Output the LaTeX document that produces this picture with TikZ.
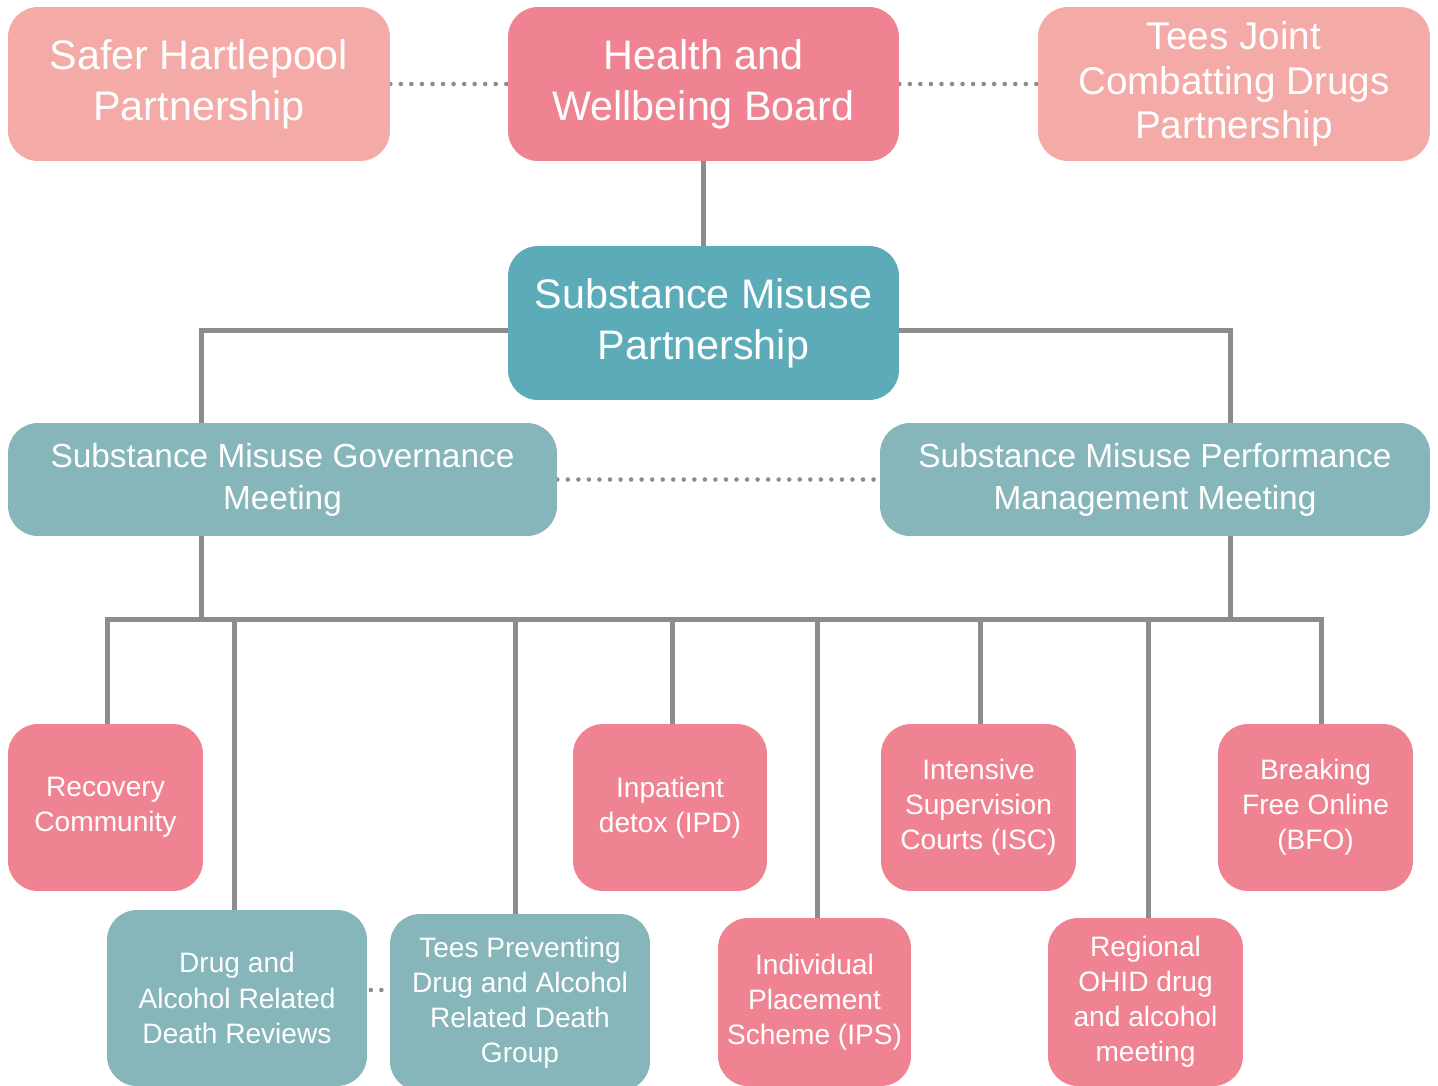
\documentclass[tikz,border=0pt]{standalone}
\usepackage{fontspec}
\setmainfont{Liberation Sans}
\usetikzlibrary{calc}
\definecolor{salmon}{HTML}{F4ABA8}
\definecolor{pinkc}{HTML}{EF8391}
\definecolor{tealc}{HTML}{5BABB8}
\definecolor{grteal}{HTML}{86B5BA}
\definecolor{linec}{HTML}{8C8C8C}
\pgfdeclarelayer{bg}
\pgfsetlayers{bg,main}
\begin{document}
\begin{tikzpicture}[x=0.02cm,y=-0.02cm,
  box/.style={rounded corners=0.6cm, inner sep=0pt, align=center, text=white},
  big/.style={font=\fontsize{23.5}{29}\selectfont},
  teesf/.style={font=\fontsize{22}{25.6}\selectfont},
  mid/.style={font=\fontsize{19}{24}\selectfont},
  small/.style={font=\fontsize{16}{20}\selectfont},
  conn/.style={draw=linec, line width=2.85pt},
  dotl/.style={draw=linec, line width=2.6pt, line cap=round, dash pattern=on 0pt off 6pt}]
\useasboundingbox (0,0) rectangle (1438,1086);

% top row
\node[box, big, fill=salmon, minimum width=7.64cm, minimum height=3.08cm] (saf) at (199,84) {Safer Hartlepool\\Partnership};
\node[box, big, fill=pinkc, minimum width=7.82cm, minimum height=3.08cm] (hwb) at (703.5,84) {Health and\\Wellbeing Board};
\node[box, teesf, fill=salmon, minimum width=7.84cm, minimum height=3.08cm] (tees) at (1234,84) {Tees Joint\\Combatting Drugs\\Partnership};
% partnership
\node[box, big, fill=tealc, minimum width=7.82cm, minimum height=3.08cm] (smp) at (703.5,323) {Substance Misuse\\Partnership};
% meetings
\node[box, mid, fill=grteal, minimum width=10.98cm, minimum height=2.26cm] (gov) at (282.5,479.5) {Substance Misuse Governance\\Meeting};
\node[box, mid, fill=grteal, minimum width=11cm, minimum height=2.26cm] (perf) at (1155,479.5) {Substance Misuse Performance\\Management Meeting};
% bottom row 1
\node[box, small, fill=pinkc, minimum width=3.9cm, minimum height=3.34cm] (rec) at (105.5,807.5) {Recovery\\Community};
\node[box, small, fill=pinkc, minimum width=3.88cm, minimum height=3.34cm] (ipd) at (670,807.5) {Inpatient\\detox (IPD)};
\node[box, small, fill=pinkc, minimum width=3.9cm, minimum height=3.34cm] (isc) at (978.5,807.5) {Intensive\\Supervision\\Courts (ISC)};
\node[box, small, fill=pinkc, minimum width=3.9cm, minimum height=3.34cm] (bfo) at (1315.5,807.5) {Breaking\\Free Online\\(BFO)};
% bottom row 2
\node[box, small, fill=grteal, minimum width=5.2cm, minimum height=3.52cm] (darr) at (237,998) {Drug and\\Alcohol Related\\Death Reviews};
\node[box, small, fill=grteal, minimum width=5.2cm, minimum height=3.54cm] (tpd) at (520,1002.5) {Tees Preventing\\Drug and Alcohol\\Related Death\\Group};
\node[box, small, fill=pinkc, minimum width=3.86cm, minimum height=3.36cm] (ips) at (814.5,1002) {Individual\\Placement\\Scheme (IPS)};
\node[box, small, fill=pinkc, minimum width=3.9cm, minimum height=3.36cm] (ohid) at (1145.5,1002) {Regional\\OHID drug\\and alcohol\\meeting};

\coordinate (bus) at (0,619);
\coordinate (govt) at ([xshift=-1.63cm]gov.north);
\coordinate (govb) at ([xshift=-1.63cm]gov.south);
\coordinate (perft) at ([xshift=1.52cm]perf.north);
\coordinate (perfb) at ([xshift=1.52cm]perf.south);
\coordinate (recin) at ([xshift=0.04cm]rec.north);
\coordinate (darrin) at ([xshift=-0.05cm]darr.north);
\coordinate (tpdin) at ([xshift=-0.1cm]tpd.north);
\coordinate (ipdin) at ([xshift=0.04cm]ipd.north);
\coordinate (ipsin) at ([xshift=0.05cm]ips.north);
\coordinate (iscin) at ([xshift=0.04cm]isc.north);
\coordinate (ohidin) at ([xshift=0.05cm]ohid.north);
\coordinate (bfoin) at ([xshift=0.11cm]bfo.north);
\coordinate (dd) at ([yshift=0.16cm]darr.east);

\begin{pgfonlayer}{bg}
\fill[white] (0,0) rectangle (1438,1086);
\draw[conn] (hwb.south) -- (smp.north);
\draw[conn] ([yshift=-0.14cm]smp.west) -| (govt);
\draw[conn] ([yshift=-0.14cm]smp.east) -| (perft);
\draw[conn] (govb) -- (govb |- bus);
\draw[conn] (perfb) -- (perfb |- bus);
\draw[conn] (recin) |- (bus -| bfoin) -- (bfoin);
\draw[conn] (darrin) -- (darrin |- bus);
\draw[conn] (tpdin) -- (tpdin |- bus);
\draw[conn] (ipdin) -- (ipdin |- bus);
\draw[conn] (ipsin) -- (ipsin |- bus);
\draw[conn] (iscin) -- (iscin |- bus);
\draw[conn] (ohidin) -- (ohidin |- bus);
\draw[dotl] (saf.east) -- (hwb.west);
\draw[dotl] (hwb.east) -- (tees.west);
\draw[dotl] (gov.east) -- (perf.west);
\draw[dotl, dash phase=4pt] (dd) -- (dd -| tpd.west);
\end{pgfonlayer}
\end{tikzpicture}
\end{document}
